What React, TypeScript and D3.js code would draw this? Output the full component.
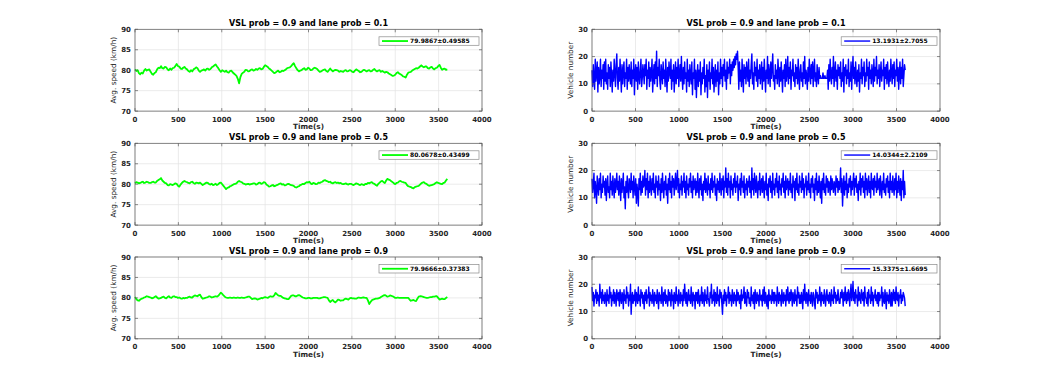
import React from 'react'
import * as d3 from 'd3'

// every series runs from t = 0 to t = 3600 s, evenly sampled
const endTime = 3600

const titles = [
  'VSL prob = 0.9 and lane prob = 0.1',
  'VSL prob = 0.9 and lane prob = 0.5',
  'VSL prob = 0.9 and lane prob = 0.9',
]
const speedLegend = ['79.9867±0.49585', '80.0678±0.43499', '79.9666±0.37383']
const countLegend = ['13.1931±2.7055', '14.0344±2.2109', '15.3375±1.6695']

const xTicks = [0, 500, 1000, 1500, 2000, 2500, 3000, 3500, 4000]
const speedTicks = [70, 75, 80, 85, 90]
const countTicks = [0, 10, 20, 30]

// avg speed (km/h), lane prob 0.1, every 15 s
const speed1 = [
  80.2, 79.8, 80.0, 79.3, 79.0, 79.4, 79.2, 79.9, 80.3, 79.9, 80.1, 80.2, 79.6, 79.1, 78.9, 79.3, 79.5, 80.2, 80.6, 80.5,
  81.0, 80.5, 80.4, 80.8, 80.7, 80.2, 80.0, 80.4, 80.1, 80.5, 80.6, 81.0, 81.5, 81.0, 80.9, 80.4, 80.3, 80.6, 80.8, 80.4,
  80.2, 79.8, 79.6, 80.0, 79.7, 80.2, 80.4, 80.7, 80.5, 79.9, 79.6, 79.9, 80.0, 80.2, 79.9, 80.3, 80.4, 80.1, 80.3, 80.7,
  80.9, 81.2, 81.4, 80.9, 80.5, 80.0, 79.6, 80.0, 79.8, 79.6, 79.9, 79.5, 79.4, 79.8, 79.9, 79.5, 79.2, 78.9, 78.6, 77.9,
  76.8, 78.3, 79.1, 79.4, 79.6, 80.1, 80.0, 79.7, 79.8, 80.1, 80.2, 79.9, 80.0, 80.3, 80.1, 80.4, 80.5, 80.2, 80.3, 80.8,
  81.2, 81.0, 80.8, 80.4, 80.2, 79.9, 79.6, 79.3, 79.4, 79.7, 79.9, 79.5, 79.6, 79.9, 79.8, 80.0, 80.2, 80.5, 80.6, 80.7,
  81.0, 81.4, 81.7, 81.0, 80.5, 80.0, 79.7, 79.9, 80.0, 80.3, 80.5, 80.1, 80.2, 80.6, 80.4, 80.0, 80.1, 80.4, 80.6, 80.5,
  80.3, 79.9, 79.6, 79.7, 79.9, 80.1, 80.2, 79.8, 79.6, 80.0, 80.4, 80.0, 79.7, 79.9, 80.1, 80.0, 79.9, 79.6, 79.8, 79.7,
  79.6, 79.9, 80.0, 79.7, 79.8, 80.0, 79.9, 79.6, 79.5, 79.9, 80.2, 80.0, 79.8, 79.5, 79.6, 79.9, 80.1, 79.9, 79.7, 79.9,
  80.0, 79.7, 79.8, 80.1, 80.3, 79.9, 79.7, 79.9, 80.0, 79.6, 79.8, 79.6, 79.4, 79.6, 79.5, 79.2, 79.0, 78.8, 78.6, 78.7,
  78.9, 79.3, 79.5, 79.2, 79.0, 78.8, 78.5, 78.4, 78.2, 78.9, 79.4, 79.5, 79.6, 79.9, 80.1, 80.3, 80.5, 80.4, 80.6, 80.9,
  81.2, 80.9, 80.7, 80.9, 80.9, 80.5, 80.4, 80.7, 80.8, 80.4, 80.2, 80.5, 80.6, 81.0, 81.3, 80.6, 80.1, 80.3, 80.4, 80.1,
  80.2,
]

// avg speed (km/h), lane prob 0.5, every 15 s
const speed2 = [
  80.2, 80.5, 80.4, 80.2, 80.3, 80.5, 80.6, 80.3, 80.4, 80.6, 80.5, 80.3, 80.3, 80.5, 80.6, 80.4, 80.4, 80.8, 81.0, 81.2,
  81.5, 80.9, 80.6, 80.3, 80.2, 79.8, 79.7, 80.0, 79.9, 79.8, 80.0, 80.2, 80.1, 79.6, 79.4, 79.9, 80.3, 80.6, 80.8, 80.6,
  80.5, 80.3, 80.2, 80.5, 80.6, 80.3, 80.1, 80.4, 80.3, 80.2, 80.4, 80.1, 79.8, 80.0, 80.2, 80.4, 80.3, 80.0, 79.9, 80.1,
  79.8, 79.9, 80.1, 79.8, 80.0, 80.3, 80.4, 80.0, 79.6, 79.2, 78.8, 79.1, 79.2, 79.5, 79.6, 79.8, 80.0, 80.1, 80.2, 80.6,
  80.8, 80.6, 80.5, 80.2, 80.1, 79.9, 80.0, 80.1, 79.9, 80.0, 80.1, 80.2, 80.2, 79.9, 80.0, 80.3, 80.4, 80.1, 80.2, 80.5,
  80.4, 79.9, 79.7, 79.4, 79.5, 79.7, 79.8, 79.5, 79.6, 79.8, 79.9, 80.1, 80.2, 79.9, 80.0, 79.7, 79.8, 80.0, 80.1, 79.9,
  79.8, 79.7, 79.6, 79.3, 79.2, 79.4, 79.5, 79.8, 79.9, 80.1, 80.0, 80.3, 80.5, 80.4, 80.6, 80.2, 80.0, 80.3, 80.2, 80.0,
  80.1, 80.4, 80.3, 80.5, 80.6, 80.9, 81.0, 80.8, 80.7, 80.5, 80.6, 80.3, 80.2, 80.4, 80.5, 80.3, 80.4, 80.2, 80.3, 80.1,
  80.0, 80.1, 80.2, 80.0, 79.9, 80.1, 80.1, 79.9, 79.8, 80.0, 80.2, 80.1, 79.9, 79.8, 80.0, 79.9, 79.8, 80.1, 80.0, 80.3,
  80.2, 80.4, 80.5, 80.2, 80.1, 79.8, 79.6, 80.1, 80.4, 80.7, 80.8, 80.5, 80.3, 80.9, 81.3, 81.1, 81.0, 80.7, 80.5, 80.2,
  80.0, 80.3, 80.4, 80.7, 80.8, 80.6, 80.5, 80.4, 80.3, 79.8, 79.5, 79.4, 79.3, 79.1, 79.0, 79.3, 79.4, 79.5, 79.6, 79.9,
  80.2, 80.4, 80.5, 80.2, 80.1, 79.8, 79.6, 79.7, 79.8, 79.9, 80.0, 80.3, 80.5, 80.3, 80.2, 80.1, 80.0, 80.3, 80.4, 80.9,
  81.3,
]

// avg speed (km/h), lane prob 0.9, every 15 s
const speed3 = [
  80.2, 79.7, 79.4, 79.3, 79.6, 79.8, 79.9, 80.1, 80.2, 80.4, 80.3, 80.2, 80.1, 79.9, 80.0, 80.2, 80.4, 80.1, 79.8, 79.9,
  80.0, 80.2, 80.3, 80.0, 79.9, 80.2, 80.4, 80.1, 80.0, 80.3, 80.4, 80.2, 80.2, 80.0, 80.1, 79.9, 79.8, 80.0, 79.9, 80.0,
  80.0, 80.2, 80.3, 80.1, 80.1, 80.4, 80.6, 80.5, 80.4, 80.7, 80.8, 80.2, 79.8, 79.9, 80.0, 80.1, 80.2, 80.4, 80.3, 80.1,
  80.2, 80.3, 80.4, 80.3, 80.5, 80.9, 81.3, 81.0, 80.6, 80.3, 80.1, 80.0, 80.0, 80.1, 80.0, 80.0, 80.1, 80.0, 80.0, 80.1,
  80.0, 80.0, 80.1, 80.0, 80.0, 80.1, 80.2, 80.3, 80.3, 80.0, 79.7, 79.8, 79.9, 79.8, 79.6, 79.7, 79.8, 80.0, 79.9, 80.1,
  80.2, 80.1, 80.0, 80.2, 80.4, 80.3, 80.3, 80.6, 81.2, 80.9, 80.6, 80.5, 80.5, 80.2, 80.0, 79.9, 79.8, 79.7, 79.7, 80.1,
  80.5, 80.6, 80.6, 80.4, 80.4, 80.6, 80.7, 80.5, 80.3, 80.1, 80.0, 79.9, 79.9, 80.0, 80.0, 79.9, 79.9, 80.0, 80.0, 80.0,
  80.0, 79.9, 79.9, 80.0, 80.1, 80.2, 80.2, 80.1, 80.0, 79.4, 79.0, 79.3, 79.5, 79.1, 78.9, 79.2, 79.6, 79.5, 79.3, 79.4,
  79.4, 79.7, 79.8, 79.7, 79.6, 79.9, 80.0, 79.9, 79.9, 79.8, 79.8, 80.0, 80.1, 80.0, 80.0, 80.1, 80.1, 80.0, 80.0, 79.4,
  78.5, 79.0, 79.4, 79.6, 79.7, 79.8, 79.8, 79.9, 80.0, 80.2, 80.4, 80.6, 80.7, 80.5, 80.3, 80.4, 80.6, 80.5, 80.4, 80.2,
  80.0, 80.0, 80.1, 80.0, 80.0, 80.0, 80.0, 80.0, 80.0, 80.0, 80.0, 79.6, 79.3, 79.4, 79.5, 79.3, 79.2, 79.8, 80.3, 80.4,
  80.4, 80.3, 80.2, 80.1, 80.0, 80.0, 80.1, 80.2, 80.2, 80.3, 80.3, 80.4, 80.4, 80.0, 79.6, 79.7, 79.8, 79.7, 79.7, 80.0,
  80.2,
]

// vehicle number, lane prob 0.1, every 7.5 s
const count1 = [
  15, 9, 17, 12, 8, 19, 11, 14, 18, 7, 16, 10, 13, 19, 9, 15, 12, 17, 8, 18,
  11, 19, 10, 14, 8, 17, 12, 16, 9, 18, 13, 7, 15, 11, 19, 14, 9, 17, 21, 12,
  8, 16, 11, 19, 13, 7, 17, 10, 15, 18, 9, 14, 12, 19, 8, 16, 11, 17, 13, 10,
  18, 9, 15, 12, 19, 6, 14, 17, 11, 16, 8, 18, 13, 10, 15, 19, 9, 12, 17, 14,
  10, 17, 13, 19, 8, 15, 12, 18, 9, 16, 11, 14, 19, 7, 13, 17, 10, 18, 12, 22,
  9, 16, 13, 19, 11, 8, 17, 14, 10, 18, 12, 15, 9, 19, 13, 7, 16, 11, 18, 14,
  12, 19, 8, 15, 11, 17, 7, 13, 18, 10, 16, 12, 19, 9, 14, 17, 11, 20, 13, 8,
  16, 10, 18, 12, 14, 7, 19, 11, 15, 9, 17, 13, 10, 18, 6, 14, 12, 19, 8, 15,
  5, 13, 17, 9, 15, 11, 18, 6, 14, 10, 16, 12, 19, 7, 13, 9, 17, 5, 15, 11,
  18, 8, 14, 12, 19, 10, 16, 7, 13, 17, 9, 15, 11, 18, 6, 14, 10, 19, 12, 16,
  9, 17, 13, 19, 11, 15, 8, 18, 12, 16, 14, 19, 10, 17, 13, 18, 15, 19, 16, 20,
  17, 21, 19, 22, 16, 8, 18, 11, 15, 9, 19, 13, 7, 17, 12, 16, 10, 18, 14, 11,
  19, 9, 15, 12, 17, 21, 10, 14, 8, 18, 13, 16, 11, 19, 9, 15, 12, 17, 10, 14,
  18, 8, 16, 11, 19, 13, 7, 15, 12, 20, 10, 17, 14, 9, 18, 12, 16, 21, 11, 13,
  8, 17, 12, 15, 10, 19, 14, 9, 16, 11, 18, 13, 7, 15, 12, 17, 9, 19, 11, 14,
  20, 10, 16, 12, 18, 8, 15, 13, 19, 11, 14, 9, 17, 12, 16, 10, 19, 13, 8, 15,
  17, 11, 14, 9, 18, 12, 20, 10, 15, 13, 8, 16, 11, 19, 14, 10, 17, 12, 18, 9,
  15, 19, 11, 14, 9, 17, 13, 10, 16, 12, 13, 12, 12, 12, 14, 12, 12, 13, 12, 12,
  12, 15, 8, 17, 11, 19, 13, 10, 16, 12, 20, 9, 14, 18, 11, 15, 8, 17, 13, 16,
  12, 18, 9, 14, 11, 19, 7, 16, 13, 17, 10, 15, 12, 19, 9, 14, 11, 18, 8, 15,
  20, 12, 16, 10, 18, 13, 9, 15, 11, 17, 7, 14, 12, 19, 10, 16, 13, 18, 9, 14,
  11, 19, 13, 16, 8, 18, 12, 15, 10, 17, 14, 9, 19, 11, 16, 13, 20, 10, 15, 12,
  17, 9, 14, 18, 11, 15, 13, 19, 8, 16, 12, 17, 10, 18, 13, 9, 15, 11, 19, 14,
  10, 17, 12, 18, 9, 15, 13, 19, 11, 16, 8, 14, 18, 10, 16, 12, 19, 9, 13, 17,
  15,
]

// vehicle number, lane prob 0.5, every 7.5 s
const count2 = [
  17, 12, 15, 19, 10, 16, 13, 8, 18, 14, 11, 17, 13, 19, 10, 15, 12, 18, 14, 16,
  11, 17, 9, 15, 18, 12, 14, 10, 19, 13, 16, 11, 18, 14, 10, 17, 12, 15, 19, 13,
  16, 11, 18, 14, 9, 17, 12, 15, 19, 10, 14, 6, 16, 12, 18, 13, 10, 17, 15, 12,
  19, 13, 16, 10, 18, 14, 11, 17, 8, 15, 12, 7, 17, 13, 19, 11, 16, 12, 18, 14,
  15, 20, 11, 17, 13, 19, 10, 16, 12, 18, 14, 11, 17, 13, 19, 12, 15, 10, 18, 14,
  16, 11, 18, 13, 15, 9, 17, 12, 19, 14, 10, 16, 13, 18, 11, 15, 8, 17, 13, 19,
  12, 16, 10, 18, 14, 17, 11, 15, 19, 13, 16, 20, 12, 17, 10, 15, 13, 18, 11, 16,
  14, 19, 12, 16, 10, 18, 13, 15, 11, 17, 14, 19, 12, 16, 10, 18, 13, 15, 17, 11,
  16, 12, 19, 14, 10, 17, 13, 18, 11, 15, 9, 16, 13, 19, 12, 17, 14, 11, 18, 13,
  15, 10, 17, 13, 19, 12, 16, 14, 18, 11, 15, 9, 17, 13, 16, 12, 19, 14, 11, 17,
  13, 18, 10, 16, 14, 21, 12, 17, 11, 19, 14, 16, 10, 18, 13, 15, 11, 17, 14, 19,
  12, 16, 14, 18, 9, 15, 13, 17, 11, 19, 14, 16, 12, 18, 10, 15, 13, 17, 11, 16,
  14, 18, 12, 16, 10, 21, 13, 17, 11, 19, 15, 12, 18, 14, 10, 16, 13, 19, 11, 15,
  17, 12, 18, 14, 10, 16, 13, 19, 11, 15, 9, 17, 14, 18, 12, 16, 10, 19, 13, 15,
  11, 17, 14, 19, 12, 16, 10, 18, 13, 15, 11, 17, 14, 19, 12, 16, 10, 18, 13, 15,
  17, 11, 16, 13, 19, 12, 15, 10, 18, 14, 16, 9, 17, 13, 19, 12, 15, 11, 18, 14,
  16, 12, 19, 13, 17, 10, 15, 14, 18, 11, 16, 13, 19, 12, 15, 10, 17, 14, 18, 12,
  15, 9, 17, 13, 19, 11, 16, 12, 18, 14, 10, 16, 8, 17, 13, 19, 12, 15, 11, 18,
  14, 17, 12, 16, 15, 11, 18, 13, 17, 14, 12, 16, 15, 11, 18, 14, 17, 12, 16, 13,
  15, 21, 12, 17, 7, 14, 18, 11, 16, 13, 19, 10, 15, 12, 17, 14, 18, 11, 16, 13,
  16, 19, 11, 17, 14, 18, 12, 15, 9, 16, 13, 19, 11, 17, 14, 18, 12, 16, 10, 19,
  13, 17, 11, 15, 18, 12, 16, 10, 19, 14, 13, 17, 11, 18, 14, 16, 12, 19, 13, 15,
  17, 11, 18, 14, 10, 16, 13, 19, 12, 15, 11, 17, 14, 18, 12, 16, 10, 19, 13, 16,
  12, 18, 14, 11, 17, 13, 19, 10, 16, 12, 18, 15, 11, 17, 9, 16, 13, 20, 10, 16,
  11,
]

// vehicle number, lane prob 0.9, every 7.5 s
const count3 = [
  19, 14, 17, 12, 16, 15, 18, 13, 17, 14, 16, 12, 20, 15, 17, 13, 18, 14, 16, 13,
  17, 15, 12, 18, 14, 16, 13, 19, 15, 17, 12, 16, 14, 18, 13, 17, 15, 12, 18, 16,
  14, 17, 12, 18, 15, 13, 17, 16, 11, 18, 14, 16, 13, 19, 15, 17, 12, 16, 14, 20,
  9, 15, 17, 13, 16, 14, 18, 12, 17, 15, 13, 19, 14, 16, 12, 18, 15, 17, 13, 16,
  11, 17, 14, 18, 13, 16, 15, 19, 12, 17, 14, 16, 13, 18, 15, 12, 17, 14, 16, 13,
  18, 15, 11, 17, 14, 16, 13, 19, 15, 12, 17, 14, 18, 13, 16, 15, 12, 18, 14, 17,
  15, 12, 18, 14, 16, 11, 17, 15, 13, 19, 14, 16, 12, 18, 15, 13, 17, 14, 16, 12,
  18, 14, 20, 16, 13, 17, 12, 15, 18, 14, 16, 13, 19, 15, 12, 17, 14, 16, 11, 17,
  14, 17, 13, 18, 15, 12, 16, 14, 19, 13, 17, 15, 12, 18, 14, 16, 13, 19, 15, 14,
  12, 17, 15, 20, 13, 16, 14, 18, 12, 17, 15, 13, 19, 14, 16, 12, 18, 15, 17, 13,
  9, 16, 13, 18, 14, 17, 12, 16, 15, 19, 13, 17, 14, 16, 12, 18, 15, 13, 17, 14,
  16, 12, 18, 14, 17, 15, 13, 16, 11, 18, 14, 16, 15, 19, 13, 17, 14, 12, 18, 15,
  17, 13, 15, 12, 19, 14, 16, 13, 17, 11, 18, 15, 13, 17, 14, 16, 12, 18, 15, 14,
  16, 12, 18, 14, 19, 13, 17, 15, 12, 16, 11, 18, 14, 16, 15, 13, 18, 14, 17, 13,
  17, 14, 16, 12, 19, 15, 13, 17, 14, 16, 12, 18, 15, 13, 17, 14, 16, 12, 18, 14,
  19, 15, 13, 17, 14, 18, 16, 12, 17, 15, 13, 18, 14, 16, 12, 19, 15, 17, 13, 16,
  13, 17, 15, 11, 18, 14, 20, 15, 13, 17, 16, 12, 18, 14, 16, 13, 17, 15, 12, 17,
  16, 13, 11, 18, 15, 17, 13, 16, 14, 19, 15, 12, 17, 14, 16, 13, 18, 15, 12, 16,
  18, 14, 16, 13, 17, 15, 12, 18, 14, 16, 13, 19, 15, 17, 13, 16, 14, 18, 15, 13,
  13, 17, 15, 18, 16, 12, 17, 14, 19, 15, 13, 17, 14, 18, 16, 12, 17, 20, 14, 16,
  21, 14, 17, 13, 18, 15, 16, 12, 19, 14, 17, 15, 13, 18, 16, 14, 17, 12, 19, 15,
  15, 13, 17, 12, 18, 15, 16, 13, 19, 14, 17, 12, 16, 15, 18, 14, 16, 13, 17, 12,
  17, 14, 16, 15, 19, 12, 17, 14, 13, 18, 15, 11, 17, 14, 16, 13, 18, 15, 12, 17,
  12, 16, 18, 14, 17, 13, 19, 15, 14, 17, 12, 16, 15, 18, 13, 16, 14, 17, 16, 15,
  12,
]

const speedSeries = [speed1, speed2, speed3]
const countSeries = [count1, count2, count3]

const font = '"DejaVu Sans", sans-serif'
const textColor = '#262626'
const gridColor = '#e3e3e3'
const boxColor = '#5a5a5a'

const Panel = ({ left, top, width, height, title, values, yDomain, yTicks, yLabel, legend, color, lineWidth }) => {
  const x = d3.scaleLinear().domain([0, 4000]).range([left, left + width])
  const y = d3.scaleLinear().domain(yDomain).range([top + height, top])
  const step = endTime / (values.length - 1)
  const line = d3
    .line()
    .x((d, i) => x(i * step))
    .y(d => y(d))
  const tick = 3
  const legendW = 37 + legend.length * 4.2
  const legendX = left + width - 3 - legendW
  const legendY = top + 7.5
  return (
    <g>
      <rect x={left} y={top} width={width} height={height} fill="#fff" />
      {xTicks.map(t => (
        <line key={`gx${t}`} x1={x(t)} x2={x(t)} y1={top} y2={top + height} stroke={gridColor} strokeWidth={0.7} />
      ))}
      {yTicks.map(t => (
        <line key={`gy${t}`} x1={left} x2={left + width} y1={y(t)} y2={y(t)} stroke={gridColor} strokeWidth={0.7} />
      ))}
      <path d={line(values)} fill="none" stroke={color} strokeWidth={lineWidth} strokeLinejoin="round" />
      <rect x={left} y={top} width={width} height={height} fill="none" stroke={boxColor} strokeWidth={0.7} />
      {xTicks.map(t => (
        <g key={`tx${t}`}>
          <line x1={x(t)} x2={x(t)} y1={top + height} y2={top + height - tick} stroke={boxColor} strokeWidth={0.7} />
          <line x1={x(t)} x2={x(t)} y1={top} y2={top + tick} stroke={boxColor} strokeWidth={0.7} />
          <text x={x(t)} y={top + height + 10.5} textAnchor="middle" fontSize={7} fontWeight="bold" fill={textColor}>
            {t}
          </text>
        </g>
      ))}
      {yTicks.map(t => (
        <g key={`ty${t}`}>
          <line x1={left} x2={left + tick} y1={y(t)} y2={y(t)} stroke={boxColor} strokeWidth={0.7} />
          <line x1={left + width} x2={left + width - tick} y1={y(t)} y2={y(t)} stroke={boxColor} strokeWidth={0.7} />
          <text x={left - 4} y={y(t) + 2.5} textAnchor="end" fontSize={7} fontWeight="bold" fill={textColor}>
            {t}
          </text>
        </g>
      ))}
      <text x={left + width / 2} y={top - 3} textAnchor="middle" fontSize={8} fontWeight="bold" fill="#000">
        {title}
      </text>
      <text x={left + width / 2} y={top + height + 18} textAnchor="middle" fontSize={7.3} fontWeight="bold" fill={textColor}>
        Time(s)
      </text>
      <text
        transform={`translate(${left - 19},${top + height / 2}) rotate(-90)`}
        textAnchor="middle"
        fontSize={7.3}
        fill={textColor}
      >
        {yLabel}
      </text>
      <rect x={legendX} y={legendY} width={legendW} height={8.5} fill="#fff" stroke="#8a8a8a" strokeWidth={0.7} />
      <line x1={legendX + 3} x2={legendX + 29} y1={legendY + 4.25} y2={legendY + 4.25} stroke={color} strokeWidth={lineWidth} />
      <text x={legendX + 31} y={legendY + 6.5} fontSize={6} fontWeight="bold" fill="#000">
        {legend}
      </text>
    </g>
  )
}

const App = () => {
  const width = 1038
  const height = 381
  const rowTops = [29.3, 143.3, 257]
  const panelH = 81.8
  return (
    <svg
      width={width}
      height={height}
      style={{ position: 'absolute', left: 0, top: 0, fontFamily: font }}
    >
      <rect width={width} height={height} fill="#fff" />
      {rowTops.map((top, i) => (
        <g key={`row${i}`}>
          <Panel
            left={135}
            top={top}
            width={347}
            height={panelH}
            title={titles[i]}
            values={speedSeries[i]}
            yDomain={[70, 90]}
            yTicks={speedTicks}
            yLabel="Avg. speed (km/h)"
            legend={speedLegend[i]}
            color="#00ff00"
            lineWidth={1.8}
          />
          <Panel
            left={592}
            top={top}
            width={348}
            height={panelH}
            title={titles[i]}
            values={countSeries[i]}
            yDomain={[0, 30]}
            yTicks={countTicks}
            yLabel="Vehicle number"
            legend={countLegend[i]}
            color="#0000ff"
            lineWidth={1.4}
          />
        </g>
      ))}
    </svg>
  )
}

export default App
